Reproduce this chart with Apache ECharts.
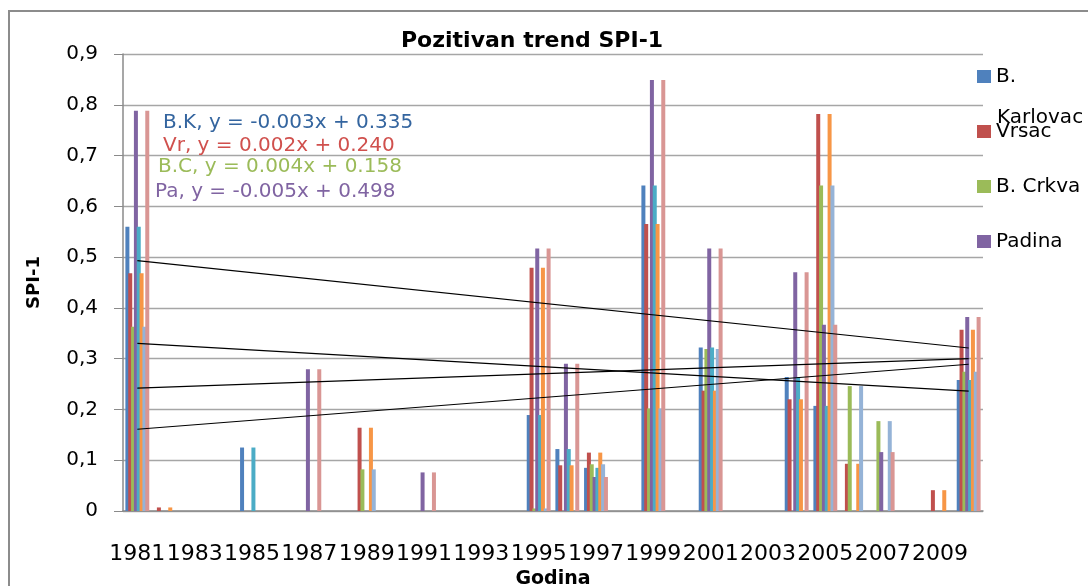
<!DOCTYPE html>
<html>
<head>
<meta charset="utf-8">
<style>
    html, body { margin: 0; padding: 0; background: #fff; }
    #chart { width: 1088px; height: 586px; }
</style>
<script src="https://cdn.jsdelivr.net/npm/echarts@6/dist/echarts.min.js"></script>
</head>
<body>
<div id="chart"></div>
<script>
    // godine 1981 - 2010
    const years = ['1981','1982','1983','1984','1985','1986','1987','1988','1989','1990',
        '1991','1992','1993','1994','1995','1996','1997','1998','1999','2000',
        '2001','2002','2003','2004','2005','2006','2007','2008','2009','2010'];

    const stations = ['B. Karlovac', 'Vrsac', 'B. Crkva', 'Padina'];

    // SPI-1 vrijednosti po stanicama
    const bKarlovac = [0.560,0,0,0,0.125,0,0,0,0,0, 0,0,0,0,0.189,0.122,0.085,0,0.641,0, 0.322,0,0,0.264,0.207,0,0,0,0,0.258];
    const vrsac     = [0.468,0.007,0,0,0,0,0,0,0.164,0, 0,0,0,0,0.479,0.090,0.115,0,0.565,0, 0.237,0,0,0.220,0.782,0.093,0,0,0.041,0.357];
    const bCrkva    = [0.363,0,0,0,0,0,0,0,0.082,0, 0,0,0,0,0.005,0,0.092,0,0.202,0, 0.319,0,0,0,0.641,0.246,0.177,0,0,0.274];
    const padina    = [0.788,0,0,0,0,0,0.279,0,0,0, 0.076,0,0,0,0.517,0.290,0.067,0,0.849,0, 0.517,0,0,0.470,0.367,0,0.116,0,0,0.382];

    // trend linije (pocetak 1981, kraj 2010)
    const trendStart = [0.330, 0.242, 0.161, 0.493];
    const trendEnd   = [0.236, 0.300, 0.289, 0.321];
    const equations  = ['B.K, y = -0.003x + 0.335', 'Vr, y = 0.002x + 0.240',
        'B.C, y = 0.004x + 0.158', 'Pa, y = -0.005x + 0.498'];

    const yTicks = ['0','0,1','0,2','0,3','0,4','0,5','0,6','0,7','0,8','0,9'];

    const colors = ['#4F81BD','#C0504D','#9BBB59','#8064A2','#4BACC6','#F79646','#95B3D7','#D99694'];
    const eqColors = ['#34659F','#D0504D','#9BBB59','#8064A2'];
    const font = 'DejaVu Sans';

    const chart = echarts.init(document.getElementById('chart'));

    const values = [bKarlovac, vrsac, bCrkva, padina, bKarlovac, vrsac, bCrkva, padina];
    let series = values.map(function (d, i) {
        return {
            name: i < 4 ? stations[i] : stations[i - 4] + ' (2)',
            type: 'bar',
            data: d,
            barWidth: 4,
            barGap: '-29%',
            itemStyle: { color: colors[i] },
            animation: false
        };
    });
    trendStart.forEach(function (s, i) {
        series.push({
            name: 'trend ' + i,
            type: 'line',
            data: [[years[0], s], [years[years.length - 1], trendEnd[i]]],
            symbol: 'none',
            lineStyle: { color: '#000', width: 1.2 },
            z: 5,
            animation: false
        });
    });

    let option = {
        textStyle: { fontFamily: font },
        title: {
            text: 'Pozitivan trend SPI-1',
            left: 396,
            top: 25,
            textStyle: { fontFamily: font, fontSize: 22, fontWeight: 'bold', color: '#000' }
        },
        legend: {
            data: stations,
            orient: 'vertical',
            left: 977,
            top: 66,
            padding: 0,
            itemWidth: 14,
            itemHeight: 13,
            itemGap: 34,
            icon: 'rect',
            formatter: function (name) { return name === 'B. Karlovac' ? 'B.' : name; },
            textStyle: { fontFamily: font, fontSize: 20, lineHeight: 21, color: '#000' }
        },
        grid: { left: 123, right: 105, top: 54, bottom: 75, containLabel: false, outerBoundsMode: 'none' },
        xAxis: {
            type: 'category',
            data: years,
            name: 'Godina',
            nameLocation: 'middle',
            nameGap: 59,
            nameTextStyle: { fontFamily: font, fontSize: 19, fontWeight: 'bold', color: '#000' },
            axisLine: { lineStyle: { color: '#8a8a8a', width: 1.5 } },
            axisTick: { interval: 0, length: 7, lineStyle: { color: '#8a8a8a' } },
            axisLabel: { interval: 1, margin: 32, fontSize: 22, color: '#000', fontFamily: font }
        },
        yAxis: {
            type: 'value',
            min: 0,
            max: 0.9,
            interval: 0.1,
            name: 'SPI-1',
            nameLocation: 'middle',
            nameGap: 80,
            nameTextStyle: { fontFamily: font, fontSize: 18, fontWeight: 'bold', color: '#000' },
            axisLine: { show: true, lineStyle: { color: '#8a8a8a', width: 1.5 } },
            axisTick: { show: true, length: 9, lineStyle: { color: '#8a8a8a' } },
            splitLine: { lineStyle: { color: '#a6a6a6', width: 1.3 } },
            axisLabel: {
                margin: 25, fontSize: 20, color: '#000', fontFamily: font,
                formatter: function (v) { return yTicks[Math.round(v * 10)]; }
            }
        },
        graphic: [
            {
                type: 'rect', silent: true,
                shape: { x: 9, y: 11, width: 1200, height: 700 },
                style: { fill: null, stroke: '#8c8c8c', lineWidth: 2 }
            },
            {
                type: 'text', left: 997, top: 108,
                style: { text: 'Karlovac', fontFamily: font, fontSize: 20, fill: '#000' }
            }
        ].concat(equations.map(function (t, i) {
            return {
                type: 'text',
                left: [163, 163, 158, 155][i],
                top: [113, 136, 157, 182][i],
                z: 10,
                style: { text: t, fontFamily: font, fontSize: 20, fill: eqColors[i] }
            };
        })),
        series: series
    };
    chart.setOption(option);
</script>
</body>
</html>
